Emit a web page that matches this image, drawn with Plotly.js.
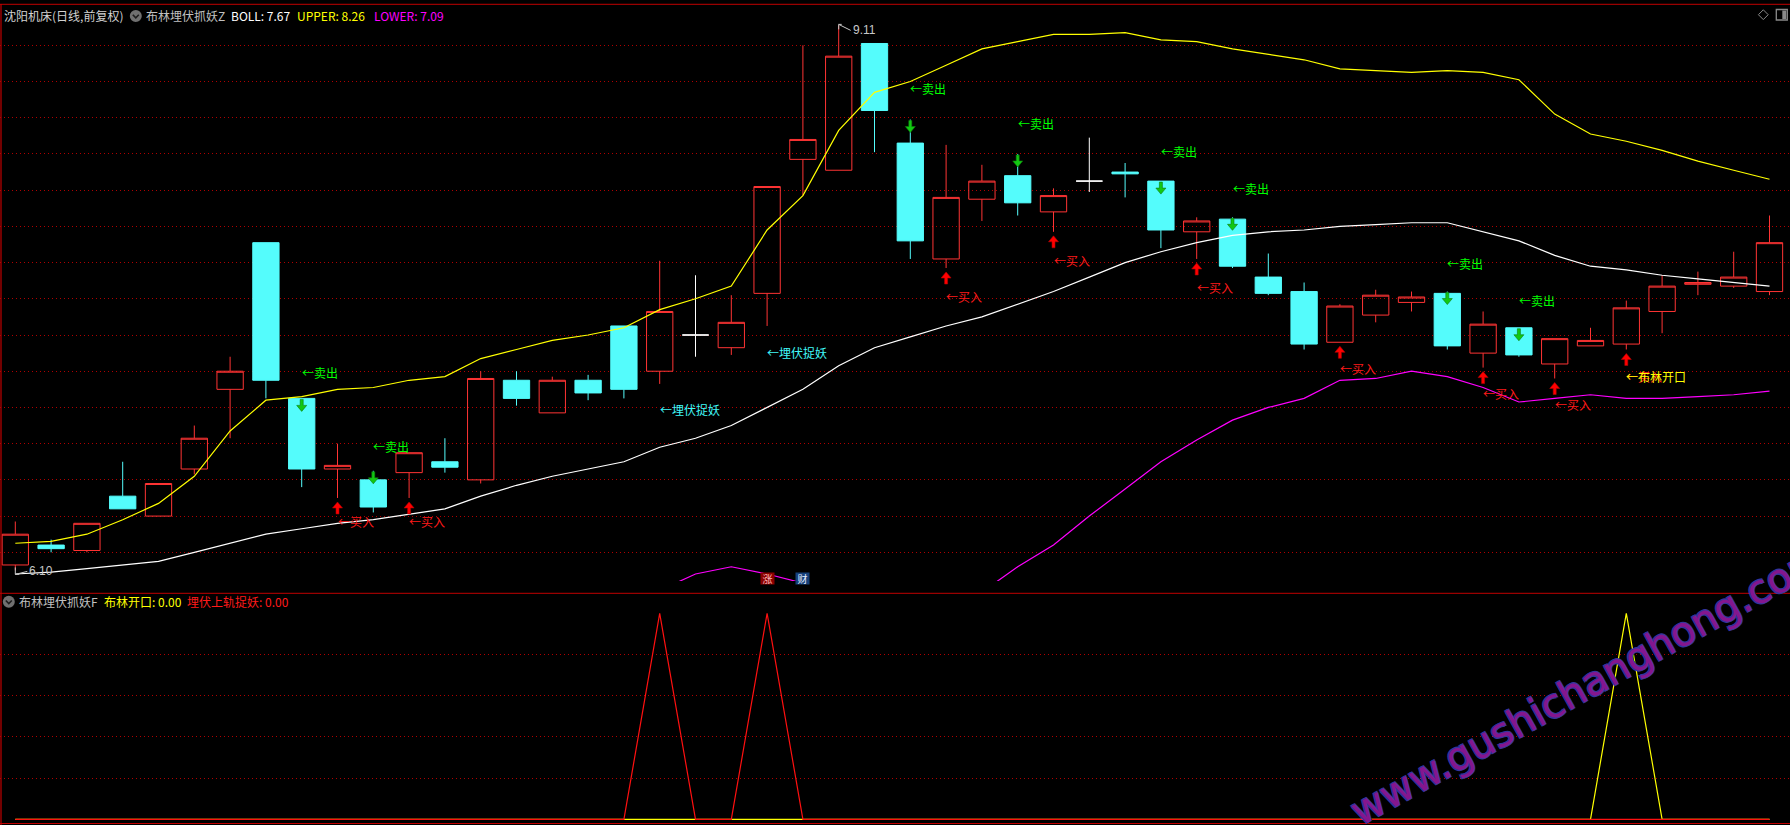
<!DOCTYPE html>
<html>
<head>
<meta charset="utf-8">
<script src="https://cdn.plot.ly/plotly-3.0.1.min.js"></script>
<style>
html,body{margin:0;padding:0;background:#000;overflow:hidden}
#chart{width:1790px;height:825px}
</style>
</head>
<body>
<div id="chart"></div>
<script>
// ---------------- DATA ----------------
const opens  = [6.13,6.24,6.21,6.51,6.40,6.66,7.10,7.91,7.05,6.66,
                6.60,6.64,6.70,6.60,7.15,6.97,7.15,7.45,7.20,7.40,
                7.33,7.63,8.37,8.31,9.01,8.46,7.82,8.15,8.28,8.08,
                8.25,8.30,8.25,7.97,8.04,7.72,7.64,7.36,7.51,7.58,
                7.63,7.30,7.44,7.24,7.34,7.35,7.53,7.68,7.67,7.64];
const highs  = [6.37,6.27,6.36,6.70,6.58,6.90,7.28,7.91,7.05,6.80,
                6.65,6.75,6.83,7.20,7.20,7.17,7.18,7.45,7.81,7.73,
                7.62,8.22,9.00,9.11,9.01,8.59,8.45,8.34,8.40,8.21,
                8.49,8.35,8.25,8.05,8.05,7.85,7.69,7.57,7.65,7.64,
                7.64,7.53,7.44,7.38,7.44,7.59,7.73,7.75,7.86,8.06];
const lows   = [6.10,6.20,6.20,6.44,6.40,6.63,6.83,7.05,6.56,6.50,
                6.42,6.50,6.64,6.58,7.01,6.97,7.04,7.05,7.13,7.28,
                7.29,7.45,8.17,8.31,8.41,7.82,7.77,8.03,8.06,7.97,
                8.19,8.16,7.88,7.82,7.77,7.62,7.32,7.36,7.47,7.53,
                7.32,7.22,7.28,7.16,7.34,7.32,7.41,7.62,7.66,7.62];
const closes = [6.30,6.22,6.36,6.44,6.58,6.83,7.20,7.15,6.66,6.68,
                6.45,6.75,6.67,7.16,7.05,7.15,7.08,7.10,7.53,7.40,
                7.47,8.22,8.48,8.94,8.64,7.92,8.16,8.25,8.13,8.17,
                8.25,8.29,7.98,8.03,7.78,7.63,7.35,7.56,7.62,7.61,
                7.34,7.46,7.29,7.38,7.37,7.55,7.67,7.69,7.72,7.91];
const dojiIdx = [19, 30];   // flat candles drawn white

const bollMid   = [6.08,6.09,6.11,6.13,6.15,6.20,6.25,6.30,6.33,6.36,
                   6.38,6.41,6.44,6.51,6.57,6.62,6.66,6.70,6.78,6.83,
                   6.90,7.00,7.10,7.23,7.33,7.39,7.45,7.50,7.57,7.64,
                   7.72,7.80,7.86,7.91,7.95,7.97,7.98,8.00,8.01,8.02,
                   8.02,7.97,7.92,7.84,7.78,7.76,7.73,7.71,7.69,7.67];
const bollUpper = [6.25,6.26,6.30,6.38,6.47,6.62,6.87,7.04,7.06,7.10,
                   7.11,7.15,7.17,7.27,7.32,7.37,7.40,7.44,7.54,7.60,
                   7.67,7.98,8.17,8.53,8.74,8.80,8.89,8.98,9.02,9.06,
                   9.06,9.07,9.03,9.02,8.98,8.95,8.92,8.87,8.86,8.85,
                   8.86,8.85,8.81,8.62,8.51,8.47,8.42,8.36,8.31,8.26];
const bollLower = [5.91,5.92,5.92,5.88,5.83,5.78,5.63,5.56,5.60,5.62,
                   5.65,5.67,5.71,5.75,5.82,5.87,5.92,5.96,5.99,6.08,
                   6.12,6.08,6.03,5.93,5.92,5.98,6.01,5.98,6.12,6.24,
                   6.40,6.55,6.70,6.82,6.93,7.00,7.05,7.15,7.16,7.20,
                   7.17,7.11,7.03,7.05,7.07,7.05,7.05,7.06,7.07,7.09];

const sellIdx     = [8,10,25,28,32,34,40,42];
const buyIdx      = [9,11,26,29,33,37,41,43,45];
const ambushIdx   = [18,21];
const bollOpenIdx = [45];

// lower panel indicator series
const sigBollOpen = [0,0,0,0,0,0,0,0,0,0, 0,0,0,0,0,0,0,0,0,0,
                     0,0,0,0,0,0,0,0,0,0, 0,0,0,0,0,0,0,0,0,0,
                     0,0,0,0,0,1,0,0,0,0];
const sigAmbush   = [0,0,0,0,0,0,0,0,0,0, 0,0,0,0,0,0,0,0,1,0,
                     0,1,0,0,0,0,0,0,0,0, 0,0,0,0,0,0,0,0,0,0,
                     0,0,0,0,0,0,0,0,0,0];

const priceGrid = [6.2,6.4,6.6,6.8,7.0,7.2,7.4,7.6,7.8,8.0,8.2,8.4,8.6,8.8,9.0];
const subGrid   = [0.2,0.4,0.6,0.8];

const hiLabel = {i:23, v:9.11, text:'9.11'};
const loLabel = {i:0,  v:6.10, text:'6.10'};

// ---------------- LAYOUT HELPERS ----------------
const W = 1790, H = 825;
const fx = px => px / W;
const fy = py => (H - py) / H;

const RED = '#ff3434', CYAN = '#54fcfc', GRID = '#b00000', FRAME = '#c00000';
const CJK = 'Noto Sans CJK SC, Noto Sans, sans-serif';

const idx = opens.map((_, i) => i);
const normIdx = idx.filter(i => !dojiIdx.includes(i));
const pick = (arr, ids) => ids.map(i => arr[i]);

const traces = [];
traces.push({
  type:'candlestick', xaxis:'x', yaxis:'y',
  x: normIdx, open: pick(opens, normIdx), high: pick(highs, normIdx),
  low: pick(lows, normIdx), close: pick(closes, normIdx),
  increasing:{line:{color:RED, width:1}, fillcolor:'rgba(0,0,0,0)'},
  decreasing:{line:{color:CYAN, width:1}, fillcolor:CYAN},
  whiskerwidth:0, hoverinfo:'skip'
});
traces.push({
  type:'candlestick', xaxis:'x', yaxis:'y',
  x: dojiIdx, open: pick(opens, dojiIdx), high: pick(highs, dojiIdx),
  low: pick(lows, dojiIdx), close: pick(closes, dojiIdx),
  increasing:{line:{color:'#ffffff', width:1}, fillcolor:'#ffffff'},
  decreasing:{line:{color:'#ffffff', width:1}, fillcolor:'#ffffff'},
  whiskerwidth:0, hoverinfo:'skip'
});
traces.push({type:'scatter', mode:'lines', x: idx, y: bollLower, xaxis:'x', yaxis:'y',
  line:{color:'#ff00ff', width:1.2}, hoverinfo:'skip'});
traces.push({type:'scatter', mode:'lines', x: idx, y: bollUpper, xaxis:'x', yaxis:'y',
  line:{color:'#ffff00', width:1.2}, hoverinfo:'skip'});
traces.push({type:'scatter', mode:'lines', x: idx, y: bollMid, xaxis:'x', yaxis:'y',
  line:{color:'#ffffff', width:1.2}, hoverinfo:'skip'});
// lower panel
traces.push({type:'scatter', mode:'lines', x: idx, y: sigBollOpen, xaxis:'x2', yaxis:'y2',
  line:{color:'#ffff00', width:1.2}, hoverinfo:'skip'});
traces.push({type:'scatter', mode:'lines', x: idx, y: sigAmbush, xaxis:'x2', yaxis:'y2',
  line:{color:'#ff1010', width:1.2}, hoverinfo:'skip'});

// ---------------- ANNOTATIONS ----------------
const ann = [];
const txt = (i, y, text, color) => ({
  x:i, y:y, xref:'x', yref:'y', text:text, showarrow:false,
  xanchor:'left', yanchor:'middle', borderpad:0, borderwidth:0,
  font:{family:CJK, size:12, color:color}
});
sellIdx.forEach(i => ann.push(txt(i, highs[i]*1.02, '←卖出', '#00ff00')));
buyIdx.forEach(i => ann.push(txt(i, lows[i]*0.98, '←买入', '#ff1a1a')));
ambushIdx.forEach(i => ann.push(txt(i, lows[i]*0.98, '←埋伏捉妖', '#40f8f8')));
bollOpenIdx.forEach(i => ann.push(txt(i, lows[i]*0.98, '←布林开口', '#ffff00')));

// high / low labels
ann.push({x:hiLabel.i, y:hiLabel.v, xref:'x', yref:'y', text:hiLabel.text, showarrow:false,
  xanchor:'left', yanchor:'middle', xshift:13, yshift:-5, borderpad:0,
  font:{family:'Liberation Sans, Arial, sans-serif', size:12, color:'#c8c8c8'}});
ann.push({x:loLabel.i, y:loLabel.v, xref:'x', yref:'y', text:loLabel.text, showarrow:false,
  xanchor:'left', yanchor:'middle', xshift:13, yshift:-1, borderpad:0,
  font:{family:'Liberation Sans, Arial, sans-serif', size:12, color:'#c8c8c8'}});

// headers
const head = (px, py, text, color) => ({
  x:fx(px), y:fy(py), xref:'paper', yref:'paper', text:text, showarrow:false,
  xanchor:'left', yanchor:'middle', borderpad:0,
  font:{family:CJK, size:12, color:color}
});
ann.push(head(3, 15.5, '沈阳机床(日线,前复权)', '#d2d2d2'));
ann.push(head(144.5, 15.5, '布林埋伏抓妖Z', '#c0c0c0'));
ann.push(head(229.5, 15.5, 'BOLL: 7.67', '#ffffff'));
ann.push(head(295.5, 15.5, 'UPPER: 8.26', '#ffff00'));
ann.push(head(373, 15.5, 'LOWER: 7.09', '#ff00ff'));
ann.push(head(18.3, 601.7, '布林埋伏抓妖F', '#c0c0c0'));
ann.push(head(102.7, 601.7, '布林开口: 0.00', '#ffff00'));
ann.push(head(185.7, 601.7, '埋伏上轨捉妖: 0.00', '#ff1a1a'));

// small badges at bottom of main panel
ann.push({x:21, y:fy(584.7), xref:'x', yref:'paper', text:'涨', showarrow:false,
  bgcolor:'#8a0000', width:13, height:11, borderpad:0,
  font:{family:CJK, size:10, color:'#ffb4b4'}});
ann.push({x:22, y:fy(584.7), xref:'x', yref:'paper', text:'财', showarrow:false,
  bgcolor:'#15407a', width:13, height:11, borderpad:0,
  font:{family:CJK, size:10, color:'#e6eeff'}});

// watermark
ann.push({x:fx(1588), y:fy(684), xref:'paper', yref:'paper', text:'www.gushichanghong.com',
  showarrow:false, textangle:-29, xanchor:'center', yanchor:'middle',
  font:{family:'DejaVu Sans, sans-serif', size:40, color:'#84168e',
        shadow:'1px 1px 0 #35359c, -1px -1px 0 #35359c, 1px -1px 0 #35359c, -1px 1px 0 #35359c'}});

// ---------------- SHAPES ----------------
const shapes = [];
// arrows (pixel-sized, anchored at candle high / low)
sellIdx.forEach(i => shapes.push({type:'path', xref:'x', yref:'y',
  xsizemode:'pixel', ysizemode:'pixel', xanchor:i, yanchor:highs[i],
  path:'M -1.5,-1 L 1.5,-1 L 1.5,-7 L 5,-7 L 0,-13 L -5,-7 L -1.5,-7 Z',
  fillcolor:'#12c812', line:{color:'#0a7a0a', width:0.6}, layer:'above'}));
buyIdx.forEach(i => shapes.push({type:'path', xref:'x', yref:'y',
  xsizemode:'pixel', ysizemode:'pixel', xanchor:i, yanchor:lows[i],
  path:'M 0,-4 L 5,-10 L 1.5,-10 L 1.5,-16 L -1.5,-16 L -1.5,-10 L -5,-10 Z',
  fillcolor:'#ff0000', line:{color:'#b00000', width:0.6}, layer:'above'}));
// high/low pointer marks
shapes.push({type:'path', xref:'x', yref:'y', xsizemode:'pixel', ysizemode:'pixel',
  xanchor:hiLabel.i, yanchor:hiLabel.v,
  path:'M 3,1 L 0,1 L 0,-4 M 0,1 L 12,-5', line:{color:'#c8c8c8', width:1}});
shapes.push({type:'path', xref:'x', yref:'y', xsizemode:'pixel', ysizemode:'pixel',
  xanchor:loLabel.i, yanchor:loLabel.v,
  path:'M 0,3 L 0,-4 L 4,-4 M 0,-4 L 12,-1', line:{color:'#c8c8c8', width:1}});

// frame
const hline = (py, x0, x1, c, w) => ({type:'line', xref:'paper', yref:'paper',
  x0:fx(x0), x1:fx(x1), y0:fy(py), y1:fy(py), line:{color:c, width:w}, layer:'above'});
shapes.push(hline(4.3, 0, W, FRAME, 1));
shapes.push(hline(593.3, 0, W, FRAME, 1));
shapes.push(hline(823.5, 0, W, FRAME, 1));
shapes.push({type:'line', xref:'paper', yref:'paper', x0:fx(1), x1:fx(1), y0:fy(4), y1:fy(825),
  line:{color:FRAME, width:1.2}, layer:'above'});

// header icons
const circ = (cx, cy, r) => ({type:'circle', xref:'paper', yref:'paper',
  x0:fx(cx-r), x1:fx(cx+r), y0:fy(cy+r), y1:fy(cy-r), fillcolor:'#707070',
  line:{color:'#707070', width:0}, layer:'above'});
const chev = (cx, cy) => ({type:'path', xref:'paper', yref:'paper',
  path:`M ${fx(cx-3)},${fy(cy-1.2)} L ${fx(cx)},${fy(cy+1.8)} L ${fx(cx+3)},${fy(cy-1.2)}`,
  line:{color:'#1e1e1e', width:1.6}, layer:'above'});
shapes.push(circ(135.8, 16, 6)); shapes.push(chev(135.8, 16));
shapes.push(circ(8.8, 601.7, 6)); shapes.push(chev(8.8, 601.7));
// top-right icons
shapes.push({type:'path', xref:'paper', yref:'paper',
  path:`M ${fx(1763.3)},${fy(9.8)} L ${fx(1768.2)},${fy(14.7)} L ${fx(1763.3)},${fy(19.6)} L ${fx(1758.4)},${fy(14.7)} Z`,
  line:{color:'#8a8a8a', width:1}, layer:'above'});
shapes.push({type:'rect', xref:'paper', yref:'paper', x0:fx(1776.3), x1:fx(1787.3), y0:fy(20), y1:fy(9.5),
  line:{color:'#8a8a8a', width:1.3}, layer:'above'});
shapes.push({type:'rect', xref:'paper', yref:'paper', x0:fx(1782.3), x1:fx(1786.3), y0:fy(19), y1:fy(10.5),
  fillcolor:'#8a8a8a', line:{width:0}, layer:'above'});

// ---------------- AXES ----------------
const X0 = 15.3, DX = 35.8;                 // pixel pos of first candle, spacing
const xRange = [(0 - X0) / DX, (W - X0) / DX];
const PPU = 181.07, Y90 = 45.3;             // px per price unit, pixel of 9.0
const mainTop = 5, mainBot = 581;
const yRange = [9.0 - (mainBot - Y90) / PPU, 9.0 + (Y90 - mainTop) / PPU];
const subTop = 594, subBot = 821, subZero = 819.3, subPPU = 206;
const y2Range = [-(subBot - subZero) / subPPU, (subZero - subTop) / subPPU];

const layout = {
  width: W, height: H,
  margin:{l:0, r:0, t:0, b:0, pad:0},
  paper_bgcolor:'#000000', plot_bgcolor:'#000000',
  showlegend:false, hovermode:false, dragmode:false,
  boxgap: 1 - 26.3 / DX, boxgroupgap: 0,
  xaxis:{domain:[0,1], range:xRange, visible:false, fixedrange:true,
         rangeslider:{visible:false}, anchor:'y'},
  xaxis2:{domain:[0,1], range:xRange, visible:false, fixedrange:true, anchor:'y2'},
  yaxis:{domain:[fy(mainBot), fy(mainTop)], range:yRange, anchor:'x',
         tickmode:'array', tickvals:priceGrid, showticklabels:false, ticks:'',
         showgrid:true, gridcolor:GRID, gridwidth:1, griddash:'1px,3px',
         zeroline:false, showline:false, fixedrange:true},
  yaxis2:{domain:[fy(subBot), fy(subTop)], range:y2Range, anchor:'x2',
         tickmode:'array', tickvals:subGrid, showticklabels:false, ticks:'',
         showgrid:true, gridcolor:GRID, gridwidth:1, griddash:'1px,3px',
         zeroline:false, showline:false, fixedrange:true},
  annotations: ann,
  shapes: shapes
};

Plotly.newPlot('chart', traces, layout, {staticPlot:true, displayModeBar:false});
</script>
</body>
</html>
